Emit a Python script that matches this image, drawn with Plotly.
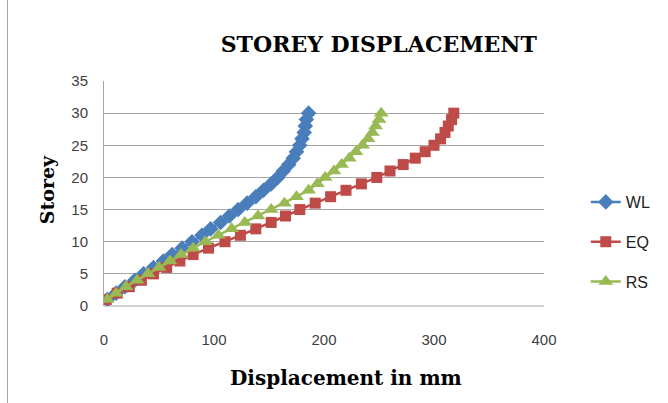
import plotly.graph_objects as go

# Storey numbers and lateral displacement (mm) per load case
storey = list(range(1, 31))
wl = [3, 11, 19, 28, 36, 45, 54, 62, 71, 80, 89, 97, 106, 114, 122,
      130, 138, 145, 152, 158, 163, 168, 172, 175, 178, 180, 182, 183, 184, 186]
eq = [2, 12, 23, 34, 45, 57, 69, 81, 95, 110, 124, 138, 152, 165, 178,
      192, 206, 220, 234, 248, 260, 272, 283, 292, 300, 306, 310, 313, 316, 318]
rs = [3, 11, 20, 30, 40, 50, 60, 70, 81, 92, 104, 116, 128, 140, 152,
      164, 175, 186, 194, 201, 209, 216, 223, 229, 235, 240, 244, 247, 250, 252]

x_ticks = [0, 100, 200, 300, 400]
y_ticks = [0, 5, 10, 15, 20, 25, 30, 35]

series = [
    ("WL", wl, "#4A7EBB", "diamond", 12),
    ("EQ", eq, "#BE4B48", "square", 11),
    ("RS", rs, "#98B954", "triangle-up", 13),
]

SERIF = "DejaVu Serif, Liberation Serif, serif"

fig = go.Figure()
for name, vals, color, symbol, size in series:
    fig.add_trace(go.Scatter(
        x=vals, y=storey, name=name, mode="lines+markers",
        line=dict(color=color, width=2.5),
        marker=dict(symbol=symbol, size=size, color=color),
        legendgroup=name,
    ))

fig.update_layout(
    width=668, height=403,
    margin=dict(l=104, r=122, t=81, b=97),
    paper_bgcolor="white", plot_bgcolor="white",
    font=dict(family="Liberation Sans, Arial, sans-serif", size=14, color="#404040"),
    title=dict(
        text="<b>STOREY DISPLACEMENT</b>",
        font=dict(family=SERIF, size=22, color="black"),
        x=0.567, xanchor="center", xref="container",
        y=0.89, yanchor="middle", yref="container",
    ),
    xaxis=dict(
        range=[0, 400], tickvals=x_ticks, showgrid=False, zeroline=False,
        showline=False, ticks="", ticklabelstandoff=23,
        tickfont=dict(size=15, color="#404040"),
    ),
    yaxis=dict(
        range=[0, 35], tickvals=y_ticks, showgrid=True, gridcolor="#A6A6A6",
        gridwidth=1, zeroline=False, showline=True, linecolor="#A6A6A6",
        linewidth=1, ticks="", ticklabelstandoff=12,
        tickfont=dict(size=15, color="#404040"),
    ),
    legend=dict(
        x=1.095, y=(306 - 242) / 225, xanchor="left", yanchor="middle",
        traceorder="grouped", tracegroupgap=16,
        font=dict(size=16, color="#202020"), bgcolor="rgba(0,0,0,0)",
    ),
    annotations=[
        dict(text="<b>Displacement in mm</b>", xref="paper", yref="paper",
             x=(347 - 104) / 442, y=-(378 - 306) / 225, showarrow=False,
             xanchor="center", yanchor="middle",
             font=dict(family=SERIF, size=20, color="black")),
        dict(text="<b>Storey</b>", xref="paper", yref="paper",
             x=-(104 - 47) / 442, y=(306 - 190) / 225, showarrow=False,
             textangle=-90, xanchor="center", yanchor="middle",
             font=dict(family=SERIF, size=19, color="black")),
    ],
    shapes=[
        dict(type="line", xref="paper", yref="paper",
             x0=-(104 - 7) / 442, x1=-(104 - 7) / 442, y0=-97 / 225, y1=306 / 225,
             line=dict(color="#A0A0A0", width=1)),
        dict(type="line", xref="paper", yref="paper",
             x0=0, x1=1, y0=0, y1=0, line=dict(color="#A6A6A6", width=1), layer="below"),
    ],
)

fig.write_html("out.html")
